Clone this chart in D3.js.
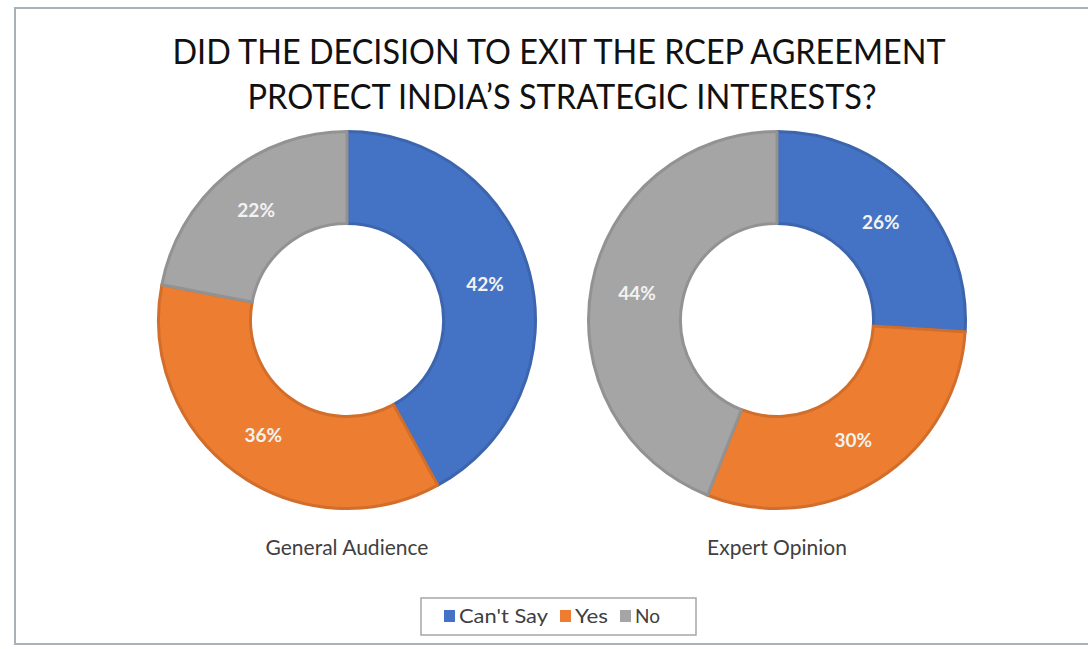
<!DOCTYPE html>
<html>
<head>
<meta charset="utf-8">
<script src="https://cdn.jsdelivr.net/npm/d3@7"></script>
<style>
  html, body { margin: 0; padding: 0; background: #fff; }
  svg { display: block; }
</style>
</head>
<body>
<svg id="chart" width="1088" height="649"></svg>
<script>
// Survey answers, in percent
const categories = ["Can't Say", "Yes", "No"];
const groups = ["General Audience", "Expert Opinion"];
const generalAudience = [42, 36, 22];
const expertOpinion = [26, 30, 44];
const titleLines = ["DID THE DECISION TO EXIT THE RCEP AGREEMENT", "PROTECT INDIA\u2019S STRATEGIC INTERESTS?"];

const colors = ["#4472C4", "#ED7D31", "#A5A5A5"];
const fontFamily = "Lato, 'Open Sans', 'Noto Sans', sans-serif";

const svg = d3.select("#chart");

// Chart frame
svg.append("rect")
  .attr("x", 15).attr("y", 8)
  .attr("width", 1090).attr("height", 636)
  .attr("fill", "#fff")
  .attr("stroke", "#a7b2ba")
  .attr("stroke-width", 2);

// Title
const titleBox = [{x: 559, y: 64, w: 773}, {x: 562, y: 109, w: 629}];
svg.append("g").selectAll("text")
  .data(titleLines)
  .join("text")
  .attr("x", (d, i) => titleBox[i].x)
  .attr("y", (d, i) => titleBox[i].y)
  .attr("text-anchor", "middle")
  .attr("textLength", (d, i) => titleBox[i].w)
  .attr("lengthAdjust", "spacingAndGlyphs")
  .attr("font-family", fontFamily)
  .attr("font-size", 34)
  .attr("fill", "#111")
  .text(d => d);

const color = d3.scaleOrdinal().domain(categories).range(colors);

const pie = d3.pie().sort(null).value(d => d.value);
const outerR = 190, innerR = 95;
const arc = d3.arc().innerRadius(innerR + 1.5).outerRadius(outerR - 1.5);
const labelArc = d3.arc().innerRadius(innerR).outerRadius(outerR);

const series = [generalAudience, expertOpinion];
const centers = d3.scalePoint().domain(groups).range([347, 777]);
const cy = 320;

groups.forEach((g, gi) => {
  const data = categories.map((c, i) => ({category: c, value: series[gi][i]}));
  const arcs = pie(data);
  const gEl = svg.append("g").attr("transform", `translate(${centers(g)},${cy})`);

  gEl.selectAll("path")
    .data(arcs)
    .join("path")
    .attr("d", arc)
    .attr("fill", d => color(d.data.category))
    .attr("stroke", d => d3.color(color(d.data.category)).darker(0.35))
    .attr("stroke-width", 3)
    .attr("stroke-linejoin", "round");

  gEl.selectAll("text.val")
    .data(arcs)
    .join("text")
    .attr("class", "val")
    .attr("transform", d => `translate(${labelArc.centroid(d)})`)
    .attr("text-anchor", "middle")
    .attr("dy", "0.35em")
    .attr("font-family", fontFamily)
    .attr("font-size", 19)
    .attr("font-weight", "bold")
    .attr("fill", "#f2f2f2")
    .text(d => d.data.value + "%");

  svg.append("text")
    .attr("x", centers(g))
    .attr("y", 555)
    .attr("text-anchor", "middle")
    .attr("font-family", fontFamily)
    .attr("font-size", 21)
    .attr("fill", "#404040")
    .text(g);
});

// Legend
const legend = svg.append("g");
legend.append("rect")
  .attr("x", 421).attr("y", 598)
  .attr("width", 275).attr("height", 37)
  .attr("fill", "#fff")
  .attr("stroke", "#a6a6a6")
  .attr("stroke-width", 1.5);

const legendX = [444, 560, 620];
const legendTextW = [89, 33, 25];
const items = legend.selectAll("g.item")
  .data(categories)
  .join("g")
  .attr("class", "item")
  .attr("transform", (d, i) => `translate(${legendX[i]},616)`);
items.append("rect")
  .attr("x", 0).attr("y", -6)
  .attr("width", 11).attr("height", 12)
  .attr("fill", d => color(d));
items.append("text")
  .attr("x", 15)
  .attr("dy", "0.35em")
  .attr("textLength", (d, i) => legendTextW[i])
  .attr("lengthAdjust", "spacingAndGlyphs")
  .attr("font-family", fontFamily)
  .attr("font-size", 20)
  .attr("fill", "#404040")
  .text(d => d);
</script>
</body>
</html>
